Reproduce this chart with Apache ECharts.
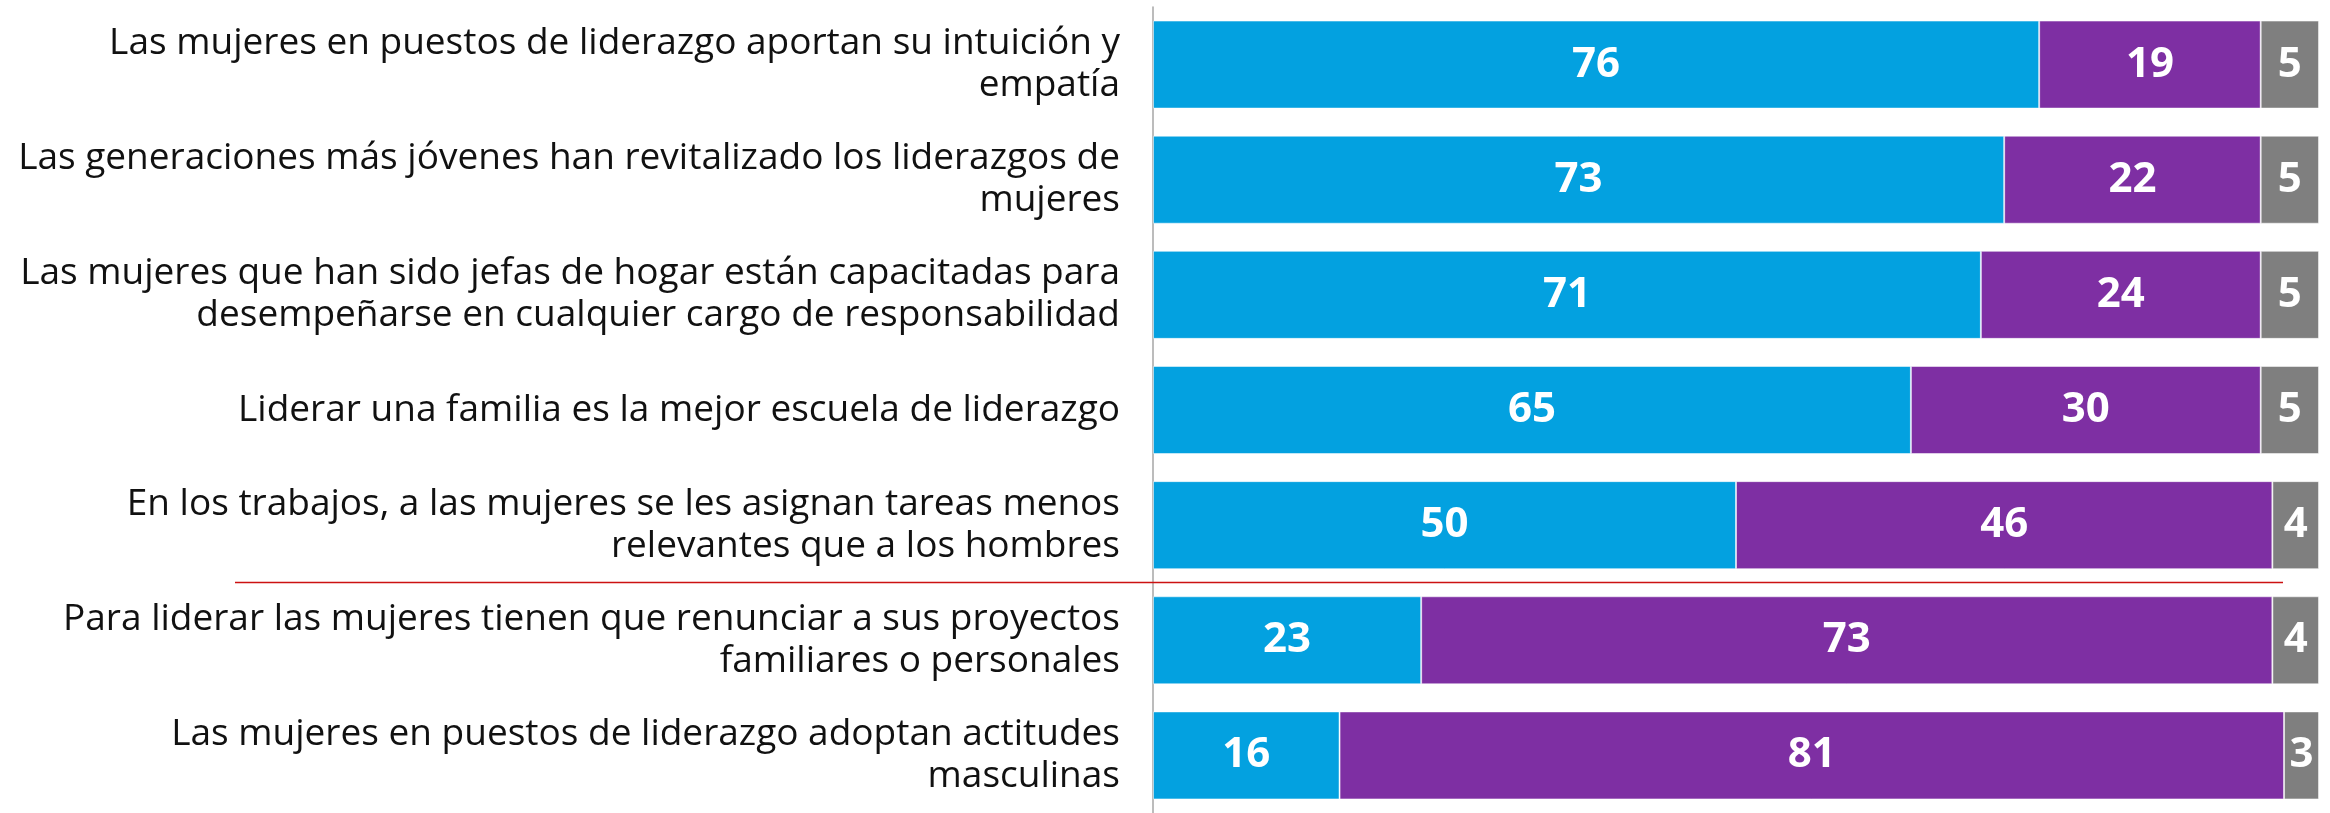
<!DOCTYPE html>
<html>
<head>
<meta charset="utf-8">
<script src="https://cdn.jsdelivr.net/npm/echarts@6/dist/echarts.min.js"></script>
<style>
    html, body { margin: 0; padding: 0; background: #fff; }
    #bars { width: 2330px; height: 813px; }
</style>
</head>
<body>
<div id="bars"></div>
<script>
var categories = [
    'Las mujeres en puestos de liderazgo aportan su intuición y\nempatía',
    'Las generaciones más jóvenes han revitalizado los liderazgos de\nmujeres',
    'Las mujeres que han sido jefas de hogar están capacitadas para\ndesempeñarse en cualquier cargo de responsabilidad',
    'Liderar una familia es la mejor escuela de liderazgo',
    'En los trabajos, a las mujeres se les asignan tareas menos\nrelevantes que a los hombres',
    'Para liderar las mujeres tienen que renunciar a sus proyectos\nfamiliares o personales',
    'Las mujeres en puestos de liderazgo adoptan actitudes\nmasculinas'
];
var acuerdo = [76, 73, 71, 65, 50, 23, 16];
var desacuerdo = [19, 22, 24, 30, 46, 73, 81];
var nsnr = [5, 5, 5, 5, 4, 4, 3];

// barras apiladas al 100%
(function drawBars() {
    var chartDom = document.getElementById('bars');
    var myChart = echarts.init(chartDom);
    var option;

    var valueLabel = {
        show: true,
        position: 'inside',
        color: '#fff',
        fontFamily: 'Open Sans',
        fontWeight: 'bold',
        fontSize: 42
    };

    option = {
        animation: false,
        color: ['#03A1E0', '#7E2FA3', '#7F7F7F'],
        grid: {
            left: 1153,
            right: 11,
            top: 7,
            bottom: -7
        },
        xAxis: {
            type: 'value',
            min: 0,
            max: 100,
            show: false
        },
        yAxis: {
            type: 'category',
            inverse: true,
            data: categories,
            axisLine: { lineStyle: { color: '#A6A6A6', width: 1.5 } },
            axisTick: { length: 11, lineStyle: { color: '#A6A6A6', width: 1.5 } },
            axisLabel: {
                margin: 33,
                color: '#111',
                fontFamily: 'Open Sans',
                fontSize: 37,
                lineHeight: 42,
                align: 'right'
            }
        },
        series: [
            {
                name: 'Acuerdo',
                type: 'bar',
                stack: 'total',
                barWidth: 88,
                itemStyle: { borderColor: 'rgba(255,255,255,0.5)', borderWidth: 1 },
                label: valueLabel,
                data: acuerdo
            },
            {
                name: 'Desacuerdo',
                type: 'bar',
                stack: 'total',
                barWidth: 88,
                itemStyle: { borderColor: 'rgba(255,255,255,0.5)', borderWidth: 1 },
                label: valueLabel,
                data: desacuerdo
            },
            {
                name: 'NS/NR',
                type: 'bar',
                stack: 'total',
                barWidth: 88,
                itemStyle: { borderColor: 'rgba(255,255,255,0.5)', borderWidth: 1 },
                label: valueLabel,
                data: nsnr
            }
        ]
    };

    option && myChart.setOption(option);

    // linea roja entre la 5a y 6a afirmación
    var y5 = myChart.convertToPixel({ yAxisIndex: 0 }, 4);
    var y6 = myChart.convertToPixel({ yAxisIndex: 0 }, 5);
    var yLine = Math.round((y5 + y6) / 2) - 0.5;
    myChart.setOption({
        graphic: [{
            type: 'line',
            shape: { x1: 235, y1: yLine, x2: 2283, y2: yLine },
            style: { stroke: '#CC1111', lineWidth: 1.5 },
            z: 100
        }]
    });
})();
</script>
</body>
</html>
